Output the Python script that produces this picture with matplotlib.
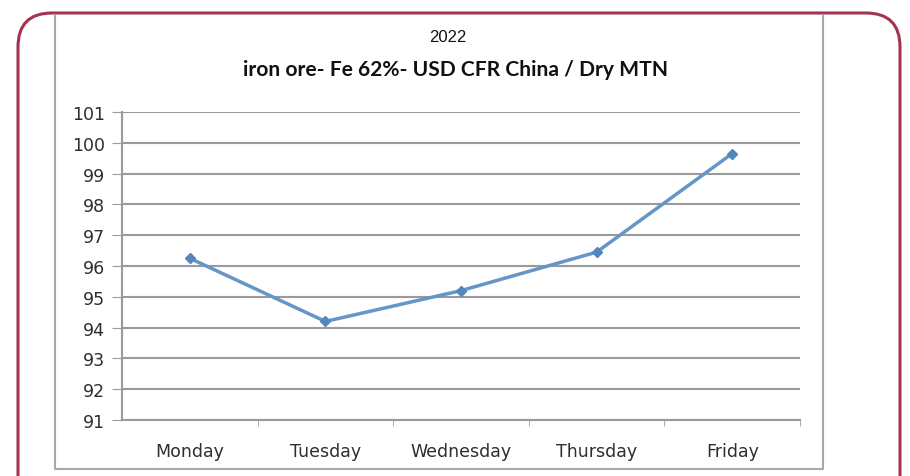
import matplotlib
matplotlib.use("Agg")
import matplotlib.pyplot as plt
from matplotlib.patches import FancyBboxPatch
import numpy as np

days = ["Monday", "Tuesday", "Wednesday", "Thursday", "Friday"]
prices = [96.25, 94.2, 95.2, 96.45, 99.65]
yticks = list(range(91, 102))

fig = plt.figure(figsize=(9.1, 4.77), dpi=100)

# background layer in pixel coords: rounded frame + scanned chart border
bg = fig.add_axes([0, 0, 1, 1], zorder=0)
bg.set_xlim(0, 910)
bg.set_ylim(477, 0)
bg.axis('off')
bg.plot([55, 55, 823, 823], [16, 470, 470, 16], color='#a8a8a8', lw=1.5)
frame = FancyBboxPatch((18, 14), 882, 510, boxstyle="round,pad=0,rounding_size=34",
                       fill=False, edgecolor='#a3334f', linewidth=2.2, clip_on=False)
bg.add_patch(frame)

bg.text(448, 38, "2022", ha='center', va='center', fontsize=12,
        family='Liberation Sans', color='#111111')
bg.text(456, 70, "iron ore- Fe 62%- USD CFR China / Dry MTN", ha='center', va='center',
        fontsize=15.1, fontweight='bold', family='Lato', color='#111111')

ax = fig.add_axes([122/910, 1-421/477, (800-122)/910, (421-113)/477], zorder=1)
ax.patch.set_alpha(0)
x = np.arange(len(days))
ax.plot(x, prices, color='#6496c6', lw=2.5, marker='D', markersize=5.5,
        markerfacecolor='#5386bd', markeredgecolor='#5386bd')

ax.set_xlim(-0.5, len(days) - 0.5)
ax.set_ylim(91, 101)
ax.set_yticks(yticks)
ax.set_yticklabels([str(v) for v in yticks])
ax.yaxis.grid(True, color='#9a9a9a', lw=1.5)
ax.set_axisbelow(True)

ax.set_xticks(x)
ax.set_xticklabels(days)
ax.set_xticks(np.arange(len(days)) + 0.5, minor=True)
ax.tick_params(axis='x', which='major', length=0, pad=16)
ax.tick_params(axis='x', which='minor', length=4, color='#9a9a9a', direction='out')
ax.tick_params(axis='y', length=7, color='#9a9a9a', pad=5)
for lab in ax.get_xticklabels() + ax.get_yticklabels():
    lab.set_fontsize(12.5)
    lab.set_color('#2e2e2e')
    lab.set_family('DejaVu Sans')

for s in ['top', 'right']:
    ax.spines[s].set_visible(False)
ax.spines['left'].set_color('#9a9a9a')
ax.spines['left'].set_linewidth(1.5)
ax.spines['bottom'].set_color('#9a9a9a')
ax.spines['bottom'].set_linewidth(1.5)

fig.savefig("out.png", dpi=100)
